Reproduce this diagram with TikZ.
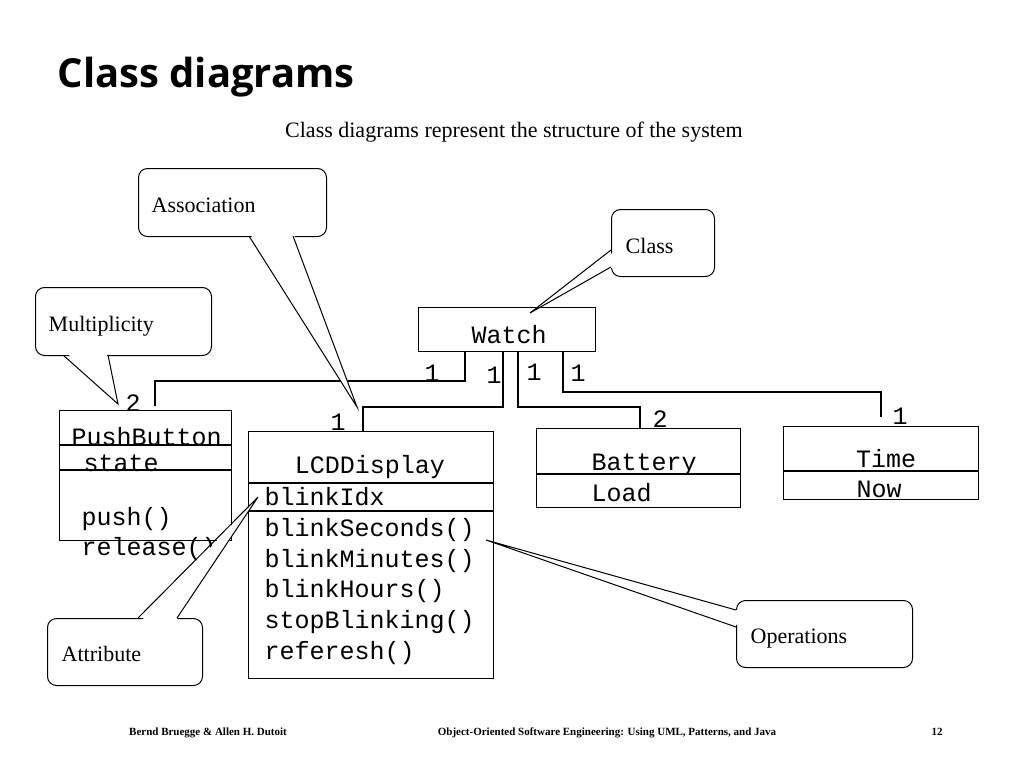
\documentclass[tikz,border=0pt]{standalone}
\usepackage{fontspec}
\setmainfont{Liberation Serif}
\newfontfamily\monob{Liberation Mono}[BoldFont=*]
\newfontfamily\titlef{Open Sans}
\usetikzlibrary{calc}
\begin{document}
\begin{tikzpicture}[x=1pt,y=-1pt,line width=1.4pt,
  cls/.style={draw,anchor=north west,inner sep=0pt},
  mono/.style={anchor=base west,inner sep=0pt,font=\fontsize{25}{25}\monob\bfseries},
  monoc/.style={anchor=base,inner sep=0pt,font=\fontsize{25}{25}\monob\bfseries},
  lbl/.style={anchor=base west,inner sep=0pt,font=\fontsize{22}{22}\selectfont},
  callout/.style={draw,rounded corners=9pt,anchor=north west,inner sep=0pt,line width=1pt},
  conn/.style={line width=1.4pt}]
\useasboundingbox (0,0) rectangle (1024,768);
\node[anchor=base west,inner sep=0pt,font=\fontsize{40}{40}\titlef\bfseries] (title) at (57,87) {Class diagrams};
\node[anchor=base,inner sep=0pt,font=\fontsize{22}{22}\selectfont] (sub) at (514,137) {Class diagrams represent the structure of the system};
% classes
\node[cls,minimum width=177pt,minimum height=44pt] (watch) at (418,307) {};
\node[monoc] (watcht) at (509,343) {Watch};
\node[cls,minimum width=172pt,minimum height=130pt] (pb) at (59,410) {};
\draw (59,445) -- (231,445) (59,470) -- (231,470);
\node[mono] (pbt) at (71,445) {PushButton};
\node[mono] (pbs) at (83,471) {state};
\node[mono] (pbp) at (81,525) {push()};
\node[mono] (pbr) at (81,555) {release()};
\node[cls,minimum width=245pt,minimum height=247pt] (lcd) at (248,431) {};
\draw (248,483) -- (493,483);
\draw[line width=2.6pt] (248,511) -- (493,511);
\node[monoc] (lcdt) at (370,473) {LCDDisplay};
\node[mono] (l0) at (264,505) {blinkIdx};
\node[mono] (l1) at (264,536) {blinkSeconds()};
\node[mono] (l2) at (264,567) {blinkMinutes()};
\node[mono] (l3) at (264,597) {blinkHours()};
\node[mono] (l4) at (264,628) {stopBlinking()};
\node[mono] (l5) at (264,659) {referesh()};
\node[cls,minimum width=204pt,minimum height=79pt] (bat) at (536,428) {};
\draw (536,474) -- (740,474);
\node[mono] (batt) at (591,470) {Battery};
\node[mono] (batl) at (591,501) {Load};
\node[cls,minimum width=195pt,minimum height=73pt] (time) at (783,426) {};
\draw[line width=2pt] (783,471) -- (978,471);
\node[monoc] (timet) at (886,467) {Time};
\node[mono] (timen) at (856,497) {Now};
% associations
\coordinate (a1) at (465,351); \coordinate (a2) at (503,351);
\coordinate (a3) at (518,351); \coordinate (a4) at (563,351);
\coordinate (p1) at (155,406); \coordinate (p2) at (363,431);
\coordinate (p3) at (640,428); \coordinate (p4) at (881,417);
\draw[conn] (a1) |- (155,381) -- (p1);
\draw[conn] (a2) |- (363,407) -- (p2);
\draw[conn] (a3) |- (640,407) -- (p3);
\draw[conn] (a4) |- (881,392) -- (p4);
\node[mono] (m1) at (424,381) {1};
\node[mono] (m2) at (486,383) {1};
\node[mono] (m3) at (526,380) {1};
\node[mono] (m4) at (570,381) {1};
\node[mono] (m5) at (125,411) {2};
\node[mono] (m6) at (330,430) {1};
\node[mono] (m7) at (652,427) {2};
\node[mono] (m8) at (892,424) {1};
% callouts
\node[callout,minimum width=188pt,minimum height=68pt] (cAss) at (138,168) {};
\node[lbl] at (151,212) {Association};
\coordinate (tAss) at (357,407);
\fill[white] (249,232) -- (tAss) -- (293,232) -- cycle;
\draw[line width=1pt] (249,236) -- (tAss) -- (293,236);
\node[callout,minimum width=103pt,minimum height=67pt] (cCls) at (611,209) {};
\node[lbl] at (625,253) {Class};
\coordinate (tCls) at (530,313);
\fill[white] (615,251) -- (tCls) -- (615,266) -- cycle;
\draw[line width=1pt] (611,250) -- (tCls) -- (611,267);
\node[callout,minimum width=176pt,minimum height=68pt] (cMul) at (35,287) {};
\node[lbl] at (48,331) {Multiplicity};
\coordinate (tMul) at (118,404);
\fill[white] (65,351) -- (tMul) -- (106,351) -- cycle;
\draw[line width=1pt] (63,355) -- (tMul) -- (108,355);
\node[callout,minimum width=155pt,minimum height=67pt] (cAtt) at (47,618) {};
\node[lbl] at (61,661) {Attribute};
\coordinate (tAtt) at (258,497);
\fill[white] (140,622) -- (tAtt) -- (175,622) -- cycle;
\draw[line width=1pt] (138,618) -- (tAtt) -- (177,618);
\node[callout,minimum width=176pt,minimum height=67pt] (cOps) at (736,600) {};
\node[lbl] at (750,643) {Operations};
\coordinate (tOps) at (486,540);
\fill[white] (740,611) -- (tOps) -- (740,626) -- cycle;
\draw[line width=1pt] (736,610) -- (tOps) -- (736,627);
% footer
\node[anchor=base,inner sep=0pt,font=\fontsize{11}{11}\selectfont\bfseries] (f1) at (208,735) {Bernd Bruegge \& Allen H. Dutoit};
\node[anchor=base,inner sep=0pt,font=\fontsize{11}{11}\selectfont\bfseries] (f2) at (607,735) {Object-Oriented Software Engineering: Using UML, Patterns, and Java};
\node[anchor=base,inner sep=0pt,font=\fontsize{11}{11}\selectfont\bfseries] (f3) at (937,735) {12};
\end{tikzpicture}
\end{document}
